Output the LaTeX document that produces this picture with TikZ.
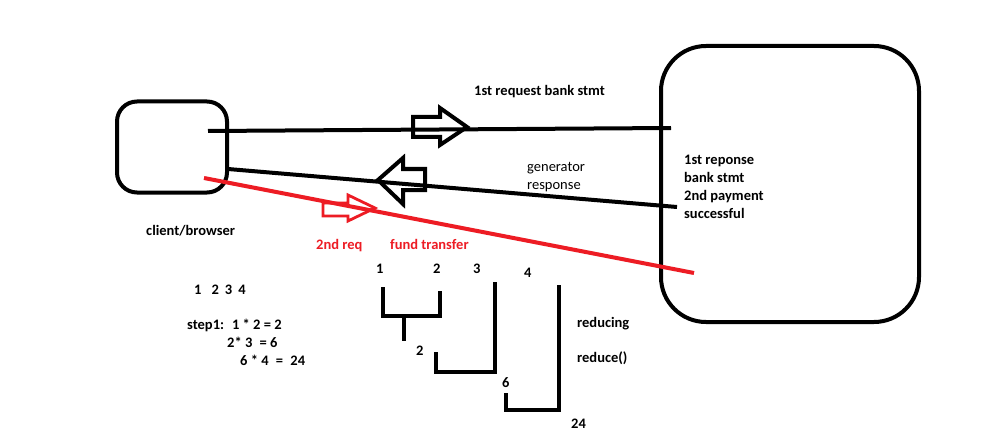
\documentclass[tikz,border=0pt]{standalone}
\usepackage{fontspec}
\setmainfont{Carlito}
\begin{document}
\begin{tikzpicture}[x=1pt,y=-1pt,
  thick4/.style={line width=4pt},
  lbl/.style={font=\fontsize{14.5}{17.5}\selectfont\bfseries, inner sep=0pt, anchor=west, text height=10pt, text depth=3pt},
  lblr/.style={font=\fontsize{14.5}{17.5}\selectfont, inner sep=0pt, anchor=west, text height=10pt, text depth=3pt},
  redlbl/.style={lbl, text={rgb,255:red,237;green,28;blue,36}},
  hollow/.style={line width=4pt, line join=miter, fill=white},
  bracket/.style={line width=4.5pt, line join=miter}
]
\definecolor{pred}{RGB}{237,28,36}
\useasboundingbox (0,0) rectangle (1004,433);
\fill[white] (0,0) rectangle (1004,433);

% boxes
\node[draw, line width=4pt, rounded corners=20pt, minimum width=110pt, minimum height=91pt, inner sep=0pt] (client) at (172,147) {};
\node[draw, line width=4pt, rounded corners=45pt, minimum width=258pt, minimum height=276pt, inner sep=0pt] (server) at (790,184) {};

% endpoints
\coordinate (r1s) at (208,131);
\coordinate (r1e) at (671,128);
\coordinate (r2s) at (228,169);
\coordinate (r2e) at (677,207);
\coordinate (r3s) at (204,178);
\coordinate (r3e) at (694,273);

% hollow arrows
\draw[hollow] (413,117) -- (440,117) -- (440,108) -- (467,127) -- (440,145) -- (440,137) -- (413,137) -- cycle;
\draw[thick4] (r1s) -- (r1e);
\draw[hollow] (425,169) -- (403,169) -- (403,158) -- (378,180) -- (403,204) -- (403,190) -- (425,190) -- cycle;
\draw[thick4] (r2s) -- (r2e);
\draw[hollow, draw=pred, line width=2.8pt] (323,203) -- (348,203) -- (348,195) -- (375,208) -- (348,221) -- (348,216) -- (323,216) -- cycle;
\draw[thick4, pred] (r3s) -- (r3e);

% labels
\node[lbl] (t1) at (474,92) {1st request bank stmt};
\node[lblr] (t2) at (527,168) {generator};
\node[lblr] (t3) at (527,186) {response};
\node[lbl] (s1) at (684,161) {1st reponse};
\node[lbl] (s2) at (684,179) {bank stmt};
\node[lbl] (s3) at (684,197) {2nd payment};
\node[lbl] (s4) at (684,215) {successful};
\node[lbl] (cb) at (146,232) {client/browser};
\node[redlbl] (rq) at (316,246) {2nd req};
\node[redlbl] (ft) at (390,246) {fund transfer};

\node[lbl] (n1) at (376,270) {1};
\node[lbl] (n2) at (433,270) {2};
\node[lbl] (n3) at (473,270) {3};
\node[lbl] (n4) at (524,274) {4};
\node[lbl] (seq) at (194,291) {1\hspace{10pt}2\hspace{6pt}3\hspace{6pt}4};
\node[lbl] (st1) at (187,326) {step1:\hspace{8pt}1 * 2 = 2};
\node[lbl] (st2) at (227,344) {2* 3\hspace{4pt} = 6};
\node[lbl] (st3) at (240,362) {6 * 4\hspace{4pt} =\hspace{4pt} 24};
\node[lbl] (rd1) at (577,324) {reducing};
\node[lbl] (rd2) at (577,359) {reduce()};
\node[lbl] (m2) at (416,352) {2};
\node[lbl] (m6) at (502,384) {6};
\node[lbl] (m24) at (571,425) {24};

% brackets
\draw[bracket] (383,287) -- (383,316) -- (440,316) -- (440,291);
\draw[bracket] (404,316) -- (404,341);
\draw[bracket] (436,352) -- (436,372) -- (495,372) -- (495,282);
\draw[bracket] (506,393) -- (506,410) -- (559,410) -- (559,285);
\end{tikzpicture}
\end{document}
